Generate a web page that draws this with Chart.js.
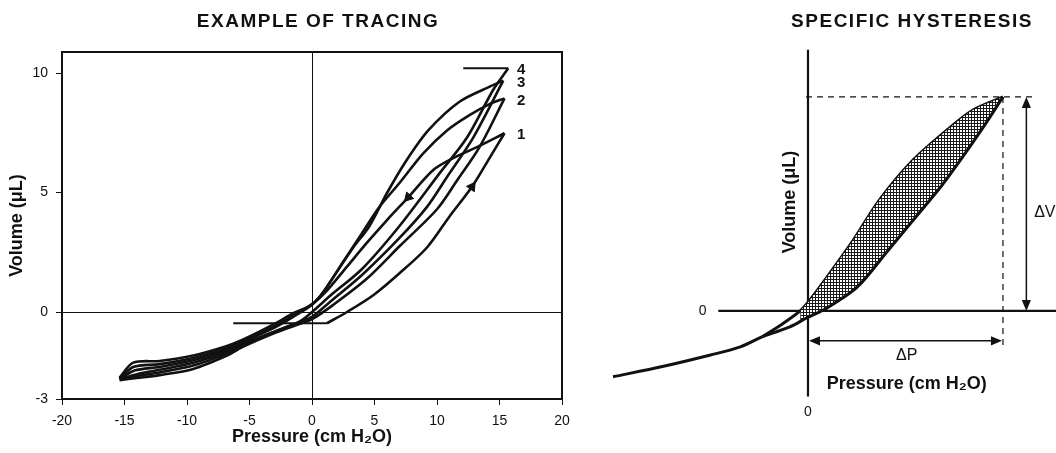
<!DOCTYPE html>
<html>
<head>
<meta charset="utf-8">
<script src="https://cdn.jsdelivr.net/npm/chart.js@4.4.1/dist/chart.umd.min.js"></script>
<style>
  body { margin: 0; background: #fff; }
  #wrap { position: relative; width: 1056px; height: 453px; overflow: hidden; }
  canvas { position: absolute; top: 0; }
  #left { left: 0; }
  #right { left: 590px; }
</style>
</head>
<body>
<div id="wrap">
  <canvas id="left" width="590" height="453"></canvas>
  <canvas id="right" width="466" height="453"></canvas>
</div>
<script>
// left panel : example of tracing, pressure (cm H2O) / volume (uL)
var inf1P = [1.2, 2.8, 4.9, 7.0, 9.2, 11.0, 12.8, 14.2, 15.4];
var inf1V = [-0.47, 0.0, 0.7, 1.62, 2.7, 4.0, 5.24, 6.44, 7.48];
var def1P = [15.4, 13.2, 11.3, 9.7, 7.7, 6.0, 4.4, 2.8, 1.2, 0.1, -1.5, -3.0, -5.5, -6.8, -9.5, -12.2, -14.3, -15.4];
var def1V = [7.48, 6.9, 6.44, 5.94, 4.8, 3.85, 2.9, 1.9, 0.9, 0.37, -0.15, -0.6, -1.2, -1.5, -1.92, -2.18, -2.3, -2.8];
var inf2P = [-15.4, -14.0, -12.2, -9.5, -6.8, -5.5, -3.0, -1.0, 0.0, 1.7, 4.4, 7.0, 10.0, 11.6, 13.4, 15.4];
var inf2V = [-2.85, -2.76, -2.64, -2.38, -1.82, -1.45, -0.88, -0.5, -0.3, 0.3, 1.4, 2.75, 4.3, 5.5, 6.9, 8.94];
var def2P = [15.4, 14.2, 12.6, 10.8, 8.9, 7.0, 5.4, 4.0, 2.5, 1.0, 0.0, -1.5, -3.0, -5.5, -6.8, -9.5, -12.2, -14.2, -15.3];
var def2V = [8.94, 8.7, 8.24, 7.6, 6.64, 5.4, 4.4, 3.3, 2.1, 0.9, 0.3, -0.2, -0.65, -1.25, -1.57, -2.02, -2.3, -2.45, -2.78];
var inf3P = [-15.3, -14.0, -12.2, -9.5, -6.8, -5.5, -3.0, -1.0, 0.0, 1.5, 4.0, 7.0, 9.2, 10.8, 12.9, 15.3];
var inf3V = [-2.82, -2.68, -2.53, -2.24, -1.73, -1.38, -0.82, -0.42, -0.2, 0.45, 1.55, 3.1, 4.4, 5.65, 7.3, 9.68];
var def3P = [15.3, 14.3, 11.8, 9.3, 7.5, 6.0, 4.6, 3.3, 1.7, 0.6, -0.2, -1.5, -3.0, -5.5, -6.8, -9.5, -12.2, -14.3, -15.4];
var def3V = [9.68, 9.45, 8.8, 7.6, 6.3, 4.98, 3.6, 2.7, 1.46, 0.63, 0.25, -0.05, -0.5, -1.15, -1.42, -1.82, -2.05, -2.12, -2.75];
var inf4P = [-15.4, -14.0, -12.2, -9.5, -6.8, -5.5, -3.0, -1.0, 0.0, 1.5, 4.0, 7.0, 10.2, 12.4, 14.5, 15.7];
var inf4V = [-2.8, -2.6, -2.42, -2.12, -1.65, -1.32, -0.82, -0.4, 0.0, 0.7, 1.8, 3.6, 5.8, 7.3, 9.3, 10.2];

var startP = [-6.3, 1.2];
var startV = [-0.47, -0.47];
var endP = [12.1, 15.7];
var endV = [10.2, 10.2];

var arrowP = [12.8, 7.7];
var arrowV = [5.24, 4.8];

var loopNames = ['1', '2', '3', '4'];
var peakP = [15.4, 15.4, 15.3, 15.7];
var peakV = [7.48, 8.94, 9.68, 10.2];

var xTicks = [-20, -15, -10, -5, 0, 5, 10, 15, 20];
var yTicks = [-3.64, 0, 5, 10];
var yTickLabels = ['-3', '0', '5', '10'];

// right panel : specific hysteresis (schematic)
var tailP = [-15, -11.2, -7.5, -5.2, -3.5];
var tailV = [-3.08, -2.6, -2.06, -1.68, -1.2];
var lowerP = [-3.5, -1.4, -0.1, 1.5, 3.8, 6.0, 8.1, 10.2, 11.9, 13.5, 15];
var lowerV = [-1.2, -0.75, -0.33, 0.15, 1.12, 2.71, 4.25, 5.79, 7.2, 8.6, 10];
var upperP = [-3.5, -2.0, -0.6, 0.15, 1.7, 3.5, 5.5, 8.1, 10.7, 12.7, 15];
var upperV = [-1.2, -0.62, 0.0, 0.51, 1.78, 3.32, 5.19, 7.06, 8.46, 9.39, 10];

var FONT = "'Liberation Sans', Arial, Helvetica, sans-serif";
var INK = '#111';
Chart.defaults.font.family = FONT;
Chart.defaults.color = INK;

function pts(p, v) {
  return p.map(function (x, i) { return { x: x, y: v[i] }; });
}

function limb(p, v, w) {
  return {
    data: pts(p, v),
    showLine: true,
    borderColor: INK,
    borderWidth: w || 2.6,
    pointRadius: 0,
    tension: 0.3,
    fill: false
  };
}

function heading(c, text, x, y) {
  c.font = 'bold 19px ' + FONT;
  c.letterSpacing = '1.5px';
  c.textAlign = 'center';
  c.textBaseline = 'middle';
  c.fillText(text, x, y);
  c.letterSpacing = '0px';
}

var leftDecor = {
  id: 'leftDecor',
  afterDraw: function (chart) {
    var c = chart.ctx, a = chart.chartArea;
    var x = chart.scales.x, y = chart.scales.y;
    c.save();
    c.strokeStyle = INK;
    c.lineWidth = 2;
    c.strokeRect(a.left, a.top, a.right - a.left, a.bottom - a.top);

    c.fillStyle = INK;
    heading(c, 'EXAMPLE OF TRACING', 318, 22);

    c.textAlign = 'left';
    c.textBaseline = 'middle';
    c.font = 'bold 15px ' + FONT;
    for (var i = 0; i < loopNames.length; i++) {
      c.fillText(loopNames[i], x.getPixelForValue(16.4), y.getPixelForValue(peakV[i]) + 2);
    }
    c.restore();
  }
};

new Chart(document.getElementById('left'), {
  type: 'scatter',
  data: {
    datasets: [
      limb(inf1P, inf1V), limb(def1P, def1V),
      limb(inf2P, inf2V), limb(def2P, def2V),
      limb(inf3P, inf3V), limb(def3P, def3V),
      limb(inf4P, inf4V),
      Object.assign(limb(startP, startV, 2.2), { tension: 0 }),
      Object.assign(limb(endP, endV, 2.2), { tension: 0 }),
      {
        data: pts(arrowP, arrowV),
        showLine: false,
        pointStyle: 'triangle',
        pointRadius: 5.5,
        pointRotation: [35, 223],
        pointBackgroundColor: INK,
        pointBorderColor: INK
      }
    ]
  },
  options: {
    responsive: false,
    animation: false,
    layout: { padding: { left: 0, right: 28, top: 52, bottom: 0 } },
    plugins: { legend: { display: false }, tooltip: { enabled: false } },
    scales: {
      x: {
        type: 'linear',
        min: -20,
        max: 20,
        afterBuildTicks: function (s) { s.ticks = xTicks.map(function (v) { return { value: v }; }); },
        afterFit: function (s) { s.height = 54; },
        ticks: { font: { size: 14 }, padding: 8, color: INK },
        grid: {
          color: function (ctx) { return ctx.tick && ctx.tick.value === 0 ? INK : 'rgba(0,0,0,0)'; },
          tickColor: INK,
          tickLength: 6,
          lineWidth: 1
        },
        border: { display: true, color: INK, width: 2 },
        title: {
          display: true,
          text: 'Pressure (cm H\u2082O)',
          font: { size: 18, weight: 'bold' },
          color: INK,
          padding: { top: 0, bottom: 5 }
        }
      },
      y: {
        type: 'linear',
        min: -3.64,
        max: 10.88,
        afterBuildTicks: function (s) { s.ticks = yTicks.map(function (v) { return { value: v }; }); },
        afterFit: function (s) { s.width = 62; },
        ticks: {
          font: { size: 14 },
          padding: 8,
          color: INK,
          callback: function (v, i) { return yTickLabels[i]; }
        },
        grid: {
          color: function (ctx) { return ctx.tick && ctx.tick.value === 0 ? INK : 'rgba(0,0,0,0)'; },
          tickColor: INK,
          tickLength: 6,
          lineWidth: 1
        },
        border: { display: true, color: INK, width: 2 },
        title: {
          display: true,
          text: 'Volume (\u03bcL)',
          font: { size: 18, weight: 'bold' },
          color: INK,
          padding: { top: 6, bottom: 0 }
        }
      }
    }
  },
  plugins: [leftDecor]
});

// stipple used for the hysteresis area
var tile = document.createElement('canvas');
tile.width = 3;
tile.height = 3;
var tg = tile.getContext('2d');
tg.fillStyle = '#1a1a1a';
tg.fillRect(0, 0, 3, 3);
tg.fillStyle = '#fff';
tg.fillRect(1, 1, 2, 2);
var stipple = tg.createPattern(tile, 'repeat');

function seg(c, x1, y1, x2, y2) {
  c.beginPath();
  c.moveTo(x1, y1);
  c.lineTo(x2, y2);
  c.stroke();
}

function head(c, x, y, ang, size) {
  c.save();
  c.translate(x, y);
  c.rotate(ang);
  c.beginPath();
  c.moveTo(0, 0);
  c.lineTo(-size, -size * 0.42);
  c.lineTo(-size, size * 0.42);
  c.closePath();
  c.fill();
  c.restore();
}

var rightDecor = {
  id: 'rightDecor',
  beforeDatasetsDraw: function (chart) {
    var c = chart.ctx, x = chart.scales.x, y = chart.scales.y;
    var x0 = x.getPixelForValue(0), y0 = y.getPixelForValue(0);
    var pk = lowerP[lowerP.length - 1], vk = lowerV[lowerV.length - 1];
    c.save();
    c.strokeStyle = INK;
    c.lineWidth = 2.2;
    seg(c, x0, y.getPixelForValue(12.2), x0, y.getPixelForValue(-4.0));
    seg(c, x.getPixelForValue(-6.9), y0, chart.width, y0);

    c.lineWidth = 1.2;
    c.setLineDash([6, 5]);
    seg(c, x.getPixelForValue(-0.15), y.getPixelForValue(vk), x.getPixelForValue(17.6), y.getPixelForValue(vk));
    seg(c, x.getPixelForValue(pk), y.getPixelForValue(vk), x.getPixelForValue(pk), y.getPixelForValue(-1.73));
    c.restore();
  },
  afterDraw: function (chart) {
    var c = chart.ctx, x = chart.scales.x, y = chart.scales.y;
    var pk = lowerP[lowerP.length - 1], vk = lowerV[lowerV.length - 1];
    c.save();
    c.strokeStyle = INK;
    c.fillStyle = INK;
    c.lineWidth = 1.5;

    // delta V
    var ax = x.getPixelForValue(16.8), ay1 = y.getPixelForValue(vk), ay2 = y.getPixelForValue(0);
    seg(c, ax, ay1 + 4, ax, ay2 - 4);
    head(c, ax, ay1, -Math.PI / 2, 11);
    head(c, ax, ay2, Math.PI / 2, 11);

    // delta P
    var by = y.getPixelForValue(-1.4), bx1 = x.getPixelForValue(0), bx2 = x.getPixelForValue(pk);
    seg(c, bx1 + 4, by, bx2 - 4, by);
    head(c, bx1 + 1, by, Math.PI, 11);
    head(c, bx2 - 1, by, 0, 11);

    heading(c, 'SPECIFIC HYSTERESIS', 322, 22);

    c.textBaseline = 'middle';
    c.textAlign = 'center';
    c.font = 'bold 18px ' + FONT;
    c.fillText('Pressure (cm H\u2082O)', x.getPixelForValue(7.6), y.getPixelForValue(-3.4));

    c.font = '16px ' + FONT;
    c.fillText('\u0394P', x.getPixelForValue(7.6), y.getPixelForValue(-2.08));
    c.textAlign = 'left';
    c.fillText('\u0394V', x.getPixelForValue(17.4), y.getPixelForValue(4.58));

    c.textAlign = 'center';
    c.font = '14px ' + FONT;
    c.fillText('0', x.getPixelForValue(-8.1), y.getPixelForValue(0));
    c.fillText('0', x.getPixelForValue(0), y.getPixelForValue(-4.72));

    c.translate(x.getPixelForValue(-1.38), y.getPixelForValue(5.09));
    c.rotate(-Math.PI / 2);
    c.font = 'bold 18px ' + FONT;
    c.fillText('Volume (\u03bcL)', 0, 0);
    c.restore();
  }
};

// shade only between the branches above the crossing near the origin
var shade = {
  data: pts(upperP.slice(2), upperV.slice(2)),
  showLine: true,
  borderWidth: 0,
  borderColor: 'rgba(0,0,0,0)',
  pointRadius: 0,
  tension: 0.3,
  fill: 1,
  backgroundColor: stipple
};

new Chart(document.getElementById('right'), {
  type: 'scatter',
  data: {
    datasets: [
      limb(tailP, tailV, 3),
      limb(lowerP, lowerV, 3),
      shade,
      limb(upperP, upperV, 3)
    ]
  },
  options: {
    responsive: false,
    animation: false,
    layout: { padding: 0 },
    plugins: { legend: { display: false }, tooltip: { enabled: false } },
    scales: {
      x: { type: 'linear', display: false, min: -16.77, max: 19.08 },
      y: { type: 'linear', display: false, min: -6.64, max: 14.53 }
    }
  },
  plugins: [rightDecor]
});
</script>
</body>
</html>
